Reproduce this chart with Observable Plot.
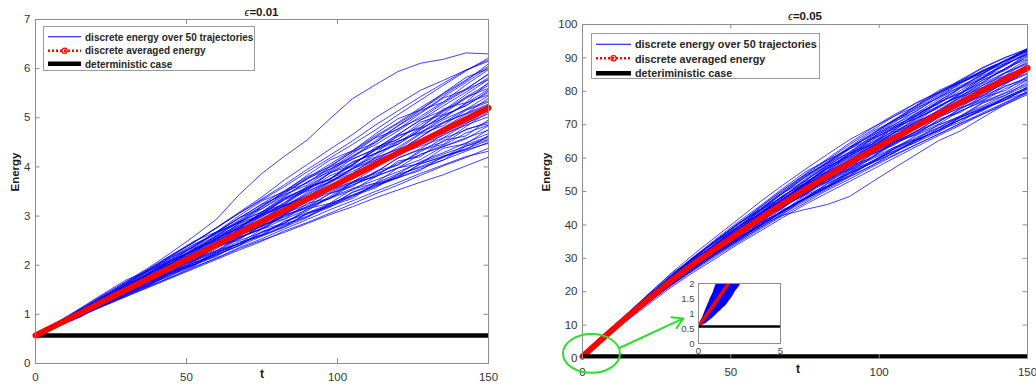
<!DOCTYPE html>
<html><head><meta charset="utf-8">
<script src="https://cdn.jsdelivr.net/npm/d3@7"></script>
<script src="https://cdn.jsdelivr.net/npm/@observablehq/plot@0.6"></script>
<style>
body{margin:0;background:#fff;}
#wrap{position:relative;width:1036px;height:385px;overflow:hidden;font-family:"Liberation Sans",Arial,sans-serif;background:#fff;}
#wrap svg{position:absolute;top:0;}
.title{position:absolute;width:200px;text-align:center;font-weight:bold;font-size:11.5px;line-height:12px;color:#1a1a1a;}
.title .eps{font-weight:normal;font-style:italic;font-size:11px;}
.legend{position:absolute;background:#fff;border:1px solid #9a9a9a;box-sizing:border-box;font-weight:bold;color:#262626;}
.legend .row{position:absolute;left:0;display:flex;align-items:center;white-space:nowrap;}
.legend svg{position:static !important;display:block;}
</style>
</head><body>
<div id="wrap"></div>
<script>
// ---------- data ----------
const T = [0,7.5,15,22.5,30,37.5,45,52.5,60,67.5,75,82.5,90,97.5,105,112.5,120,127.5,135,142.5,150];
const deterministicLevel = 0.57;

const leftTitle = "=0.01";
const rightTitle = "=0.05";
const legendLabels = ["discrete energy over 50 trajectories","discrete averaged energy","deterministic case"];
const legendLabelsRight = ["discrete energy over 50 trajectories","discrete averaged energy","deteriministic case"];
const xTicks = [0,50,100,150];
const leftYTicks = [0,1,2,3,4,5,6,7];
const rightYTicks = [0,10,20,30,40,50,60,70,80,90,100];
const insetXTicks = [0,5];
const insetYTicks = [0,0.5,1,1.5,2];

const leftMean = [0.57,0.80,1.03,1.27,1.50,1.73,1.96,2.19,2.42,2.66,2.89,3.12,3.35,3.58,3.81,4.05,4.28,4.51,4.74,4.97,5.20];
const rightMean = [0.57,6.6,12.4,18.0,23.4,28.4,33.0,37.5,42.0,46.4,50.6,54.6,58.5,62.3,66.0,69.6,73.2,76.7,80.2,83.6,87.0];

const leftTrajectories = [
[0.57,.84,1.12,1.40,1.67,1.95,2.26,2.59,2.94,3.44,3.87,4.22,4.55,4.98,5.39,5.67,5.94,6.11,6.19,6.32,6.30],
[0.57,.83,1.09,1.37,1.66,1.93,2.21,2.47,2.77,3.08,3.39,3.74,4.05,4.36,4.66,5.00,5.28,5.56,5.76,5.97,6.18],
[0.57,.77,.98,1.18,1.38,1.58,1.76,1.97,2.14,2.34,2.51,2.67,2.85,3.03,3.19,3.37,3.53,3.69,3.84,4.02,4.20],
[0.57,.82,1.07,1.29,1.56,1.83,2.04,2.31,2.60,2.88,3.09,3.40,3.70,3.90,4.21,4.53,4.83,5.11,5.42,5.72,6.02],
[0.57,.78,1.02,1.30,1.55,1.75,1.94,2.14,2.39,2.68,2.95,3.22,3.40,3.58,3.76,4.03,4.32,4.61,4.89,5.09,5.28],
[0.57,.81,1.08,1.35,1.56,1.83,2.10,2.31,2.50,2.71,2.99,3.27,3.55,3.76,4.06,4.35,4.56,4.86,5.14,5.42,5.70],
[0.57,.76,.95,1.21,1.40,1.59,1.84,2.01,2.20,2.41,2.69,2.84,3.00,3.18,3.43,3.60,3.78,3.96,4.14,4.32,4.50],
[0.57,.83,1.05,1.32,1.59,1.85,2.14,2.41,2.67,2.96,3.24,3.44,3.63,3.93,4.23,4.45,4.73,5.03,5.32,5.59,5.88],
[0.57,.79,.99,1.20,1.45,1.65,1.84,2.09,2.27,2.54,2.81,2.98,3.17,3.36,3.53,3.80,3.98,4.15,4.42,4.59,4.75],
[0.57,.82,1.09,1.31,1.52,1.78,1.99,2.27,2.54,2.76,3.05,3.34,3.60,3.88,4.09,4.27,4.46,4.76,5.04,5.25,5.52],
[0.57,.77,1.01,1.22,1.42,1.67,1.86,2.05,2.24,2.50,2.67,2.86,3.11,3.38,3.56,3.73,3.90,4.09,4.26,4.42,4.60],
[0.57,.81,1.06,1.33,1.60,1.81,2.08,2.34,2.62,2.90,3.19,3.50,3.77,4.06,4.33,4.63,4.90,5.21,5.49,5.77,6.05],
[0.57,.78,.98,1.24,1.49,1.69,1.88,2.13,2.40,2.61,2.79,3.04,3.31,3.60,3.86,4.07,4.25,4.45,4.64,4.89,5.08],
[0.57,.83,1.10,1.37,1.63,1.90,2.11,2.39,2.68,2.96,3.25,3.52,3.80,4.00,4.19,4.50,4.78,4.99,5.29,5.57,5.78],
[0.57,.78,.97,1.17,1.37,1.55,1.74,1.93,2.12,2.31,2.49,2.70,2.87,3.06,3.25,3.45,3.63,3.83,4.02,4.19,4.38],
[0.57,.80,1.05,1.25,1.53,1.80,2.01,2.21,2.48,2.78,3.04,3.24,3.53,3.82,4.01,4.20,4.50,4.79,4.99,5.29,5.58],
[0.57,.79,1.04,1.31,1.52,1.71,1.91,2.17,2.44,2.63,2.81,3.00,3.20,3.46,3.63,3.83,4.08,4.25,4.44,4.69,4.85],
[0.57,.84,1.08,1.35,1.62,1.88,2.16,2.43,2.64,2.92,3.21,3.47,3.75,4.02,4.31,4.60,4.88,5.17,5.46,5.75,6.10],
[0.57,.77,.96,1.22,1.41,1.61,1.80,1.99,2.25,2.44,2.61,2.80,3.05,3.23,3.39,3.65,3.82,4.01,4.19,4.45,4.62],
[0.57,.82,1.07,1.34,1.55,1.76,2.03,2.29,2.56,2.84,3.04,3.22,3.43,3.70,3.97,4.17,4.36,4.53,4.80,5.07,5.25],
[0.57,.79,1.00,1.21,1.46,1.71,1.98,2.24,2.50,2.71,2.91,3.18,3.45,3.72,3.91,4.13,4.40,4.69,4.96,5.17,5.45],
[0.57,.81,1.01,1.23,1.42,1.62,1.87,2.05,2.24,2.44,2.63,2.90,3.07,3.25,3.43,3.61,3.80,4.06,4.22,4.37,4.54],
[0.57,.82,1.08,1.36,1.64,1.91,2.18,2.47,2.76,3.06,3.33,3.60,3.90,4.18,4.46,4.75,5.06,5.36,5.66,5.95,6.22],
[0.57,.78,1.00,1.27,1.54,1.74,1.93,2.12,2.37,2.56,2.76,3.03,3.29,3.48,3.67,3.86,4.04,4.31,4.58,4.75,4.92],
[0.57,.83,1.07,1.29,1.56,1.82,2.09,2.29,2.56,2.78,3.07,3.36,3.57,3.76,4.05,4.35,4.62,4.81,5.12,5.39,5.66],
[0.57,.76,.97,1.17,1.36,1.56,1.76,1.95,2.15,2.36,2.54,2.74,2.93,3.13,3.31,3.50,3.68,3.87,4.04,4.21,4.32],
[0.57,.80,1.06,1.32,1.58,1.78,2.05,2.32,2.53,2.81,3.01,3.20,3.48,3.76,3.96,4.25,4.52,4.71,4.90,5.17,5.35],
[0.57,.78,.99,1.25,1.44,1.65,1.91,2.10,2.29,2.56,2.74,2.94,3.13,3.40,3.69,3.89,4.18,4.37,4.66,4.85,5.02],
[0.57,.82,1.03,1.30,1.57,1.84,2.12,2.38,2.66,2.86,3.15,3.42,3.69,3.96,4.16,4.37,4.66,4.95,5.24,5.52,5.82],
[0.57,.79,.98,1.19,1.39,1.64,1.83,2.02,2.21,2.40,2.59,2.78,2.97,3.22,3.49,3.67,3.86,4.11,4.29,4.49,4.68],
[0.57,.85,1.05,1.35,1.54,1.85,2.03,2.34,2.52,2.86,3.03,3.36,3.53,3.88,4.03,4.40,4.56,4.91,5.07,5.42,5.60],
[0.57,.75,1.02,1.18,1.45,1.60,1.88,2.02,2.30,2.44,2.74,2.85,3.15,3.26,3.55,3.67,3.98,4.07,4.38,4.47,4.76],
[0.57,.80,1.09,1.28,1.59,1.76,2.08,2.24,2.57,2.74,3.09,3.24,3.60,3.74,4.11,4.27,4.64,4.79,5.18,5.31,5.72],
[0.57,.78,1.06,1.23,1.51,1.66,1.94,2.09,2.38,2.52,2.83,2.94,3.26,3.36,3.69,3.79,4.12,4.21,4.54,4.63,4.96],
[0.57,.84,1.11,1.32,1.61,1.89,2.08,2.39,2.68,2.87,3.19,3.50,3.67,4.00,4.31,4.49,4.84,5.15,5.32,5.67,5.98],
[0.57,.77,.96,1.23,1.40,1.58,1.85,2.01,2.18,2.47,2.61,2.78,3.06,3.20,3.36,3.65,3.78,3.93,4.22,4.35,4.48],
[0.57,.81,1.00,1.29,1.48,1.77,1.95,2.25,2.43,2.74,2.92,3.22,3.39,3.70,3.87,4.19,4.36,4.67,4.84,5.15,5.32],
[0.57,.83,1.10,1.39,1.59,1.88,2.17,2.36,2.66,2.97,3.15,3.46,3.77,3.95,4.27,4.59,4.76,5.09,5.40,5.57,5.90],
[0.57,.76,1.01,1.20,1.39,1.65,1.82,2.00,2.27,2.44,2.61,2.89,3.04,3.20,3.48,3.63,3.78,4.07,4.20,4.35,4.64],
[0.57,.82,1.02,1.31,1.50,1.78,2.05,2.23,2.52,2.72,3.02,3.20,3.37,3.67,3.96,4.14,4.31,4.61,4.91,5.08,5.40],
[0.57,.79,1.07,1.27,1.56,1.75,1.93,2.23,2.40,2.59,2.89,3.06,3.23,3.53,3.70,3.88,4.18,4.35,4.51,4.82,5.12],
[0.57,.85,1.13,1.42,1.70,1.89,2.20,2.49,2.68,3.01,3.31,3.50,3.83,4.14,4.33,4.67,4.98,5.16,5.50,5.82,6.00],
[0.57,.78,.97,1.24,1.42,1.68,1.86,2.13,2.30,2.58,2.74,3.02,3.17,3.46,3.60,3.91,4.04,4.34,4.46,4.77,4.88],
[0.57,.82,1.08,1.30,1.57,1.84,2.04,2.32,2.60,2.80,2.99,3.28,3.57,3.75,4.04,4.34,4.52,4.70,5.00,5.30,5.47],
[0.57,.77,.98,1.18,1.43,1.61,1.79,2.05,2.22,2.40,2.67,2.82,2.98,3.26,3.41,3.57,3.85,3.99,4.14,4.42,4.56],
[0.57,.81,1.07,1.35,1.55,1.83,2.10,2.30,2.59,2.89,3.08,3.38,3.57,3.87,4.16,4.36,4.66,4.96,5.15,5.47,5.78],
[0.57,.80,1.00,1.28,1.46,1.65,1.92,2.10,2.37,2.56,2.74,3.02,3.19,3.36,3.64,3.81,3.98,4.26,4.41,4.57,4.84],
[0.57,.83,1.04,1.33,1.60,1.80,1.99,2.27,2.55,2.75,3.04,3.33,3.51,3.69,3.98,4.28,4.46,4.76,5.06,5.24,5.55],
[0.57,.78,1.04,1.24,1.44,1.70,1.88,2.07,2.34,2.62,2.79,3.06,3.34,3.51,3.69,3.98,4.26,4.42,4.59,4.87,5.16],
[0.57,.83,1.09,1.37,1.64,1.92,2.20,2.47,2.76,3.06,3.35,3.64,3.95,4.24,4.53,4.85,5.14,5.43,5.70,5.97,6.15]
];

const rightTrajectories = [
[0.57,6.3,11.8,17.1,22.2,27.4,31.5,35.7,40.0,42.9,44.6,46.1,48.5,52.8,57.0,61.1,65.2,68.2,72.2,76.1,79.5],
[0.57,7.0,13.3,19.5,25.6,31.2,36.5,41.7,47.0,51.9,56.6,61.1,65.5,69.1,72.5,75.6,79.4,82.7,86.0,89.1,92.8],
[0.57,6.1,11.4,16.4,21.4,25.9,30.0,34.3,38.2,42.2,46.1,49.6,53.0,56.5,60.0,63.4,66.7,69.9,73.2,76.4,80.0],
[0.57,6.8,12.9,18.3,24.2,29.6,34.0,39.1,44.2,48.4,53.2,57.8,61.5,65.8,70.0,73.4,77.6,81.7,84.8,87.8,91.8],
[0.57,6.4,12.3,18.3,24.0,28.6,32.7,36.7,41.6,46.6,51.4,56.0,59.4,62.6,65.6,69.8,74.1,78.2,81.2,84.0,87.8],
[0.57,6.9,13.2,19.2,24.4,30.0,35.3,39.5,43.5,47.4,52.2,56.8,61.3,64.7,69.0,73.1,76.2,80.3,84.2,88.1,91.2],
[0.57,6.2,11.5,17.3,22.2,26.6,31.4,35.2,39.2,43.2,48.0,51.3,54.5,57.7,61.8,64.8,67.8,71.7,74.6,77.4,81.0],
[0.57,6.9,12.8,18.8,24.8,30.4,35.8,40.9,45.8,50.9,55.8,59.4,62.7,67.1,71.4,74.6,78.8,82.7,85.6,88.4,92.2],
[0.57,6.5,11.9,17.1,22.8,27.4,31.5,36.3,40.2,45.0,49.8,53.1,56.5,59.7,62.8,66.8,69.8,72.7,76.7,79.4,82.2],
[0.57,6.8,13.0,18.4,23.6,29.0,33.3,38.4,43.4,47.6,52.4,57.0,61.3,65.6,69.0,72.0,75.2,79.3,83.4,86.6,90.4],
[0.57,6.3,12.2,17.4,22.4,27.6,31.7,35.7,39.7,44.4,48.0,51.6,55.8,60.1,63.2,66.2,69.2,72.3,75.3,78.2,81.2],
[0.57,6.7,12.7,18.7,24.6,29.4,34.5,39.5,44.6,49.5,54.2,58.8,63.1,67.3,71.5,75.6,79.6,83.5,87.2,90.2,92.6],
[0.57,6.4,11.9,17.7,23.3,27.9,32.1,36.9,41.8,45.8,49.5,53.8,58.2,62.6,66.6,69.8,72.8,75.9,78.9,82.6,85.5],
[0.57,7.0,13.2,19.2,25.0,30.5,34.9,40.0,45.0,49.8,54.5,58.9,63.3,66.7,70.0,74.2,78.2,81.3,85.4,89.2,92.3],
[0.57,6.3,11.7,16.9,21.9,26.4,30.6,34.7,38.8,42.8,46.6,50.4,53.7,57.3,60.7,64.0,67.2,70.5,73.6,76.7,79.6],
[0.57,6.6,12.6,17.8,23.7,29.1,33.5,37.7,42.6,47.6,52.1,55.8,60.3,64.7,68.0,71.1,75.4,79.5,82.7,86.8,90.8],
[0.57,6.5,12.5,18.4,23.6,28.2,32.5,37.3,42.2,46.1,49.8,53.4,57.0,61.1,64.2,67.4,71.2,74.1,77.2,80.8,83.5],
[0.57,7.0,13.0,19.0,24.9,30.3,35.4,40.3,44.6,49.4,54.2,58.5,62.8,67.0,71.2,75.2,79.2,83.2,86.2,89.1,92.0],
[0.57,6.3,11.6,17.4,22.4,27.0,31.2,35.3,40.1,44.0,47.6,51.2,55.3,58.6,61.6,65.4,68.4,71.5,74.5,78.2,81.1],
[0.57,6.8,12.8,18.7,23.9,28.7,33.7,38.5,43.4,48.2,52.1,55.6,59.3,63.5,67.6,70.8,74.0,76.9,80.8,84.6,87.5],
[0.57,6.5,12.1,17.4,23.0,28.2,33.2,38.0,42.8,46.9,50.8,55.2,59.5,63.7,67.0,70.4,74.4,78.5,82.4,85.6,89.5],
[0.57,6.7,12.2,17.6,22.6,27.3,32.1,36.1,40.2,44.2,48.0,52.4,55.7,59.0,62.2,65.2,68.4,72.2,75.0,77.8,80.6],
[0.57,6.8,12.9,18.9,24.8,30.2,35.2,40.3,45.4,50.4,55.0,59.4,64.0,68.3,72.5,76.6,79.8,82.9,86.0,89.1,92.2],
[0.57,6.4,12.1,18.0,23.8,28.5,32.7,36.8,41.5,45.4,49.3,53.7,57.9,61.3,64.6,67.7,70.8,74.7,78.6,81.4,84.2],
[0.57,6.9,12.8,18.2,24.0,29.3,34.3,38.5,43.4,47.6,52.4,57.0,60.7,64.1,68.4,72.6,76.6,79.7,84.0,87.8,91.6],
[0.57,6.2,11.8,17.0,22.0,26.7,31.0,35.1,39.3,43.4,47.1,50.8,54.3,57.8,61.0,64.1,67.2,70.3,73.2,76.0,79.0],
[0.57,6.6,12.7,18.5,24.2,28.9,33.9,38.8,43.1,47.9,51.8,55.4,59.8,64.1,67.5,71.6,75.6,78.7,81.8,85.6,88.5],
[0.57,6.4,12.0,17.8,22.8,27.6,32.5,36.6,40.7,45.4,49.1,52.8,56.3,60.5,64.8,68.0,72.2,75.3,79.4,82.4,85.2],
[0.57,6.8,12.4,18.3,24.1,29.5,34.6,39.4,44.4,48.4,53.2,57.6,61.9,66.1,69.5,72.8,77.0,81.1,85.2,89.1,92.6],
[0.57,6.5,11.9,17.2,22.3,27.5,31.7,35.8,39.9,43.8,47.6,51.2,54.7,58.7,62.8,65.8,69.0,72.7,75.7,78.8,81.8],
[0.57,7.1,12.6,18.9,23.9,29.8,33.9,39.4,43.3,48.8,52.3,57.5,60.7,65.7,68.7,73.5,76.3,81.0,83.8,88.2,91.0],
[0.57,6.1,12.3,17.1,22.9,27.0,32.2,35.6,40.8,44.0,48.9,51.7,56.3,58.9,63.2,65.7,70.0,72.3,76.5,78.8,82.8],
[0.57,6.6,13.0,18.1,24.3,28.7,34.3,38.1,43.8,47.4,52.9,56.0,61.3,64.2,69.2,71.9,76.8,79.4,84.2,86.7,91.3],
[0.57,6.4,12.7,17.6,23.5,27.7,32.8,36.5,41.6,45.0,50.0,52.8,57.6,60.1,64.8,67.0,71.6,73.7,78.2,80.2,84.6],
[0.57,7.0,13.2,18.5,24.5,30.0,34.2,39.5,44.6,48.5,53.6,58.4,61.7,66.5,71.0,74.0,78.4,82.5,85.4,89.4,92.4],
[0.57,6.3,11.7,17.6,22.4,26.9,31.9,35.7,39.6,44.5,47.8,51.2,55.6,58.5,61.5,65.6,68.2,70.9,75.0,77.4,79.8],
[0.57,6.7,12.1,18.2,23.2,28.8,32.9,38.1,42.1,47.2,50.9,55.6,58.9,63.5,66.6,71.0,74.0,78.3,81.2,85.4,88.2],
[0.57,6.9,13.1,19.2,24.3,29.9,35.1,39.2,44.4,49.5,53.2,58.0,62.7,66.0,70.6,75.0,78.0,82.3,86.4,89.2,92.4],
[0.57,6.2,12.2,17.3,22.3,27.6,31.6,35.6,40.5,44.2,47.8,52.3,55.4,58.5,62.7,65.4,68.2,72.3,74.8,77.4,81.4],
[0.57,6.8,12.3,18.4,23.4,28.9,33.9,37.9,43.0,47.0,51.9,55.4,58.7,63.2,67.5,70.5,73.5,77.7,81.9,84.7,89.0],
[0.57,6.5,12.8,18.0,24.0,28.6,32.7,37.9,41.8,45.7,50.6,54.0,57.3,61.8,64.9,67.9,72.2,75.1,77.9,82.1,86.2],
[0.57,7.1,13.4,19.5,25.4,30.0,35.4,40.5,44.6,49.9,54.8,58.4,63.3,67.9,71.2,75.8,80.2,83.2,87.0,90.0,92.8],
[0.57,6.4,11.8,17.7,22.6,27.9,32.0,36.9,40.8,45.6,49.1,53.6,56.7,61.1,63.9,68.2,70.8,75.0,77.4,81.6,83.8],
[0.57,6.8,12.9,18.3,24.1,29.5,33.8,38.8,43.8,47.8,51.6,56.2,60.7,64.0,68.3,72.5,75.6,78.6,82.8,86.9,89.7],
[0.57,6.3,11.9,17.1,22.7,27.2,31.3,36.1,40.0,43.8,48.4,51.6,54.8,59.1,62.0,64.8,68.9,71.5,74.2,78.1,80.6],
[0.57,6.7,12.8,18.8,23.9,29.4,34.4,38.6,43.7,48.7,52.5,57.2,60.7,65.2,69.5,72.7,77.0,81.2,84.3,88.6,92.6],
[0.57,6.6,12.1,18.1,23.0,27.6,32.6,36.6,41.5,45.4,49.1,53.6,56.9,60.1,64.3,67.2,70.2,74.2,76.9,79.6,83.4],
[0.57,6.9,12.5,18.6,24.4,29.1,33.3,38.3,43.3,47.3,52.1,56.7,60.1,63.4,67.7,71.9,75.0,79.2,83.4,86.3,90.5],
[0.57,6.4,12.5,17.7,22.8,28.1,32.2,36.3,41.2,46.0,49.6,54.0,58.4,61.6,64.8,68.9,73.0,75.8,78.7,82.6,86.6],
[0.57,6.9,13.0,19.0,24.8,30.3,35.4,40.3,45.4,50.4,55.2,59.8,64.5,68.9,73.0,76.4,79.6,82.7,86.0,89.2,92.5]
];

// inset (zoom of 0 <= t <= 5, 0 <= E <= 2)
const insetT     = [0,0.125,0.25,0.375,0.5,0.625,0.75,0.875,1.0,1.125,1.25,1.375,1.5,1.625,1.75,1.875,2.0,2.125,2.25,2.375,2.5,2.625];
const insetUpper = [0.57,0.73,0.87,1.04,1.21,1.37,1.53,1.67,1.87,2.04,2.1,2.1,2.1,2.1,2.1,2.1,2.1,2.1,2.1,2.1,2.1,2.1];
const insetLower = [0.57,0.58,0.61,0.64,0.68,0.74,0.80,0.85,0.92,0.98,1.05,1.11,1.18,1.23,1.32,1.42,1.50,1.61,1.73,1.82,1.91,2.05];
const insetMeanT = [0,0.5,1,1.5,2,2.5];
const insetMean  = [0.57,0.96,1.35,1.74,2.13,2.52];

// annotation (green ellipse around origin + arrow to inset), in data units of right panel
const ellipseCenter = [3.2, 1.35];
const ellipseRadii = [9.6, 5.8];
const arrowSpec = [{t1: 12.8, E1: 3.3, t2: 34, E2: 12}];

// ---------- helpers ----------
const FONT = '"Liberation Sans", Arial, sans-serif';
const BLUE = "#0000ff", RED = "#ff0000", GREEN = "#2fdc2f", FRAME = "#8c8c8c", TXT = "#333333";
const fmt = d3.format("~g");
function rows(trajs){ const r=[]; trajs.forEach((tr,k)=>tr.forEach((E,i)=>r.push({t:T[i],E,k}))); return r; }
const wrap = document.getElementById("wrap");

function panel({left, width, mL, mR, mT, mB, yDomain, yTicks, trajs, mean, tickLenY, tickLenX, yLabelDx, tLabelDx, redLast}){
  const xMax = 150, yMax = yDomain[1];
  const marks = [
    Plot.line(rows(trajs), {x:"t", y:"E", z:"k", stroke:BLUE, strokeWidth:0.75}),
  ];
  const det = Plot.ruleY([deterministicLevel], {x1:0, x2:150, stroke:"#000", strokeWidth:4.5});
  const red = Plot.line(mean, {x:T, y:mean, stroke:RED, strokeWidth:6, strokeLinecap:"round"});
  if (redLast) { marks.push(red, det); } else { marks.push(det, red); }
  marks.push(
    Plot.ruleX(xTicks, {x:d=>d, y1:0, y2:tickLenY, stroke:FRAME}),
    Plot.ruleX(xTicks, {x:d=>d, y1:yMax, y2:yMax-tickLenY, stroke:FRAME}),
    Plot.ruleY(yTicks, {y:d=>d, x1:0, x2:tickLenX, stroke:FRAME}),
    Plot.ruleY(yTicks, {y:d=>d, x1:xMax, x2:xMax-tickLenX, stroke:FRAME}),
    Plot.frame({stroke:FRAME}),
    Plot.axisX({ticks:xTicks, tickFormat:fmt, tickSize:0, tickPadding:9, label:null, fill:TXT}),
    Plot.axisY({ticks:yTicks, tickFormat:fmt, tickSize:0, tickPadding:5, label:null, fill:TXT}),
    Plot.text(["Energy"], {frameAnchor:"left", dx:yLabelDx, rotate:-90, fontWeight:"bold", fontSize:11.5, fill:"#1a1a1a"}),
    Plot.text(["t"], {frameAnchor:"bottom", dx:tLabelDx, dy:14, fontWeight:"bold", fontSize:12, fill:"#1a1a1a"})
  );
  const p = Plot.plot({
    width, height:385, marginLeft:mL, marginRight:mR, marginTop:mT, marginBottom:mB,
    x:{domain:[0,150]}, y:{domain:yDomain},
    style:{fontFamily:FONT, fontSize:"11.5px", color:TXT, background:"transparent", overflow:"visible"},
    marks
  });
  p.style.left = left + "px";
  wrap.appendChild(p);
  return p;
}

panel({left:0, width:500, mL:35, mR:12, mT:19, mB:22, yDomain:[0,7], yTicks:leftYTicks,
  trajs:leftTrajectories, mean:leftMean, tickLenY:0.1, tickLenX:1.5, yLabelDx:-20, tLabelDx:0, redLast:false});
const right = panel({left:518, width:518, mL:64, mR:9, mT:24, mB:27, yDomain:[0,100], yTicks:rightYTicks,
  trajs:rightTrajectories, mean:rightMean, tickLenY:1.2, tickLenX:1.5, yLabelDx:-36, tLabelDx:-7, redLast:true});

// green ellipse + arrow on right panel
{
  const sx = right.scale("x"), sy = right.scale("y");
  const cx = sx.apply(ellipseCenter[0]), cy = sy.apply(ellipseCenter[1]);
  const rx = sx.apply(ellipseCenter[0] + ellipseRadii[0]) - cx;
  const ry = cy - sy.apply(ellipseCenter[1] + ellipseRadii[1]);
  d3.select(right).append("ellipse").attr("cx", cx).attr("cy", cy).attr("rx", rx).attr("ry", ry)
    .attr("fill","none").attr("stroke",GREEN).attr("stroke-width",2);
  const a = Plot.plot({
    width:518, height:385, marginLeft:64, marginRight:9, marginTop:24, marginBottom:27,
    x:{domain:[0,150], axis:null}, y:{domain:[0,100], axis:null},
    style:{background:"transparent", overflow:"visible"},
    marks:[Plot.arrow(arrowSpec, {x1:"t1", y1:"E1", x2:"t2", y2:"E2", stroke:GREEN, strokeWidth:2, headLength:9})]
  });
  a.style.left = "518px";
  wrap.appendChild(a);
}

// inset
{
  const ins = Plot.plot({
    width:110, height:78, marginLeft:24, marginRight:4, marginTop:5, marginBottom:13,
    x:{domain:[0,5]}, y:{domain:[0,2]},
    style:{fontFamily:FONT, fontSize:"9.5px", color:"#444", background:"transparent", overflow:"visible"},
    marks:[
      Plot.frame({fill:"#fff", stroke:null}),
      Plot.areaY(insetT, {x:insetT, y1:insetLower, y2:insetUpper, fill:BLUE, clip:true}),
      Plot.line(insetMean, {x:insetMeanT, y:insetMean, stroke:RED, strokeWidth:3.5, clip:true}),
      Plot.ruleY([deterministicLevel], {x1:0, x2:5, stroke:"#000", strokeWidth:2.5}),
      Plot.frame({stroke:FRAME}),
      Plot.axisX({ticks:insetXTicks, tickFormat:fmt, tickSize:0, tickPadding:4, label:null}),
      Plot.axisY({ticks:insetYTicks, tickFormat:fmt, tickSize:0, tickPadding:4, label:null})
    ]
  });
  ins.style.left = "674px"; ins.style.top = "278px";
  wrap.appendChild(ins);
}

// titles
function title(text, cx, top){
  const d = document.createElement("div");
  d.className = "title";
  d.style.left = (cx - 100) + "px"; d.style.top = top + "px";
  d.innerHTML = '<span class="eps">\u03F5</span>' + text;
  wrap.appendChild(d);
}
title(leftTitle, 261.5, 6);
title(rightTitle, 805, 10);

// legends
function legend(labels, x, y, w, h, rowH, firstRow, sampleW, fontSize){
  const L = document.createElement("div");
  L.className = "legend";
  Object.assign(L.style, {left:x+"px", top:y+"px", width:w+"px", height:h+"px", fontSize:fontSize+"px"});
  labels.forEach((lab, i) => {
    const r = document.createElement("div");
    r.className = "row";
    r.style.top = (firstRow + i*rowH - rowH/2) + "px";
    r.style.height = rowH + "px";
    const s = d3.create("svg").attr("width", sampleW + 8).attr("height", rowH);
    const yy = rowH/2;
    if (i === 0) s.append("line").attr("x1",4).attr("x2",4+sampleW).attr("y1",yy).attr("y2",yy).attr("stroke",BLUE).attr("stroke-width",1);
    if (i === 1) {
      s.append("line").attr("x1",4).attr("x2",4+sampleW).attr("y1",yy).attr("y2",yy).attr("stroke",RED).attr("stroke-width",2.5).attr("stroke-dasharray","2,2");
      s.append("circle").attr("cx",4+sampleW/2).attr("cy",yy).attr("r",2.6).attr("fill","none").attr("stroke",RED).attr("stroke-width",1.2);
    }
    if (i === 2) s.append("line").attr("x1",4).attr("x2",4+sampleW).attr("y1",yy).attr("y2",yy).attr("stroke","#000").attr("stroke-width",4.5);
    r.appendChild(s.node());
    const t = document.createElement("span");
    t.textContent = lab;
    r.appendChild(t);
    L.appendChild(r);
  });
  wrap.appendChild(L);
}
legend(legendLabels, 43, 26, 212, 45, 13.5, 10, 33, 10);
legend(legendLabelsRight, 591, 33, 229, 46, 14.5, 10, 35, 10.8);
</script>
</body></html>
